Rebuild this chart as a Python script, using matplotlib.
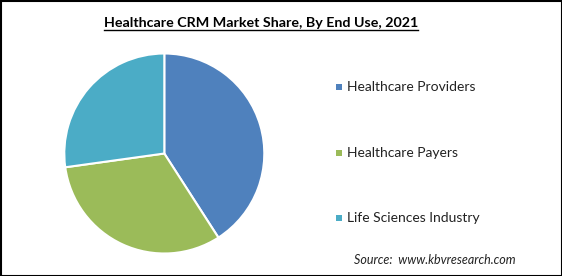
import matplotlib
matplotlib.use("Agg")
import matplotlib.pyplot as plt
from matplotlib.patches import Rectangle
from matplotlib.lines import Line2D

plt.rcParams['font.family'] = ['Lato', 'DejaVu Sans']

labels = ["Healthcare Providers", "Healthcare Payers", "Life Sciences Industry"]
shares = [40.9, 31.9, 27.2]
colors = ["#4F81BD", "#9BBB59", "#4BACC6"]

W, H = 562, 276
fig = plt.figure(figsize=(W / 100, H / 100), dpi=100)
fig.patch.set_facecolor("white")

# pie axes: centre at (164, 153) px, radius ~100 px
cx, cy, r = 164.3, 153.5, 100
ax = fig.add_axes([(cx - r) / W, (H - cy - r) / H, 2 * r / W, 2 * r / H])
ax.pie(shares, colors=colors, startangle=90, counterclock=False,
       wedgeprops=dict(edgecolor="white", linewidth=1.5))
ax.set_xlim(-1, 1)
ax.set_ylim(-1, 1)
ax.set_aspect("equal")
ax.axis("off")

# title with underline
title = fig.text(261 / W, 1 - 23 / H, "Healthcare CRM Market Share, By End Use, 2021",
                 ha="center", va="center", fontsize=10.3, fontweight="bold")
fig.canvas.draw()
bb = title.get_window_extent(fig.canvas.get_renderer())
uy = (bb.y0 - 1) / H
fig.add_artist(Line2D([bb.x0 / W, bb.x1 / W], [uy, uy], color="black", lw=1,
                      transform=fig.transFigure))

# legend
ys = [87, 153, 218]
for lab, col, y in zip(labels, colors, ys):
    fig.add_artist(Rectangle(((336) / W, (H - y - 3) / H), 6 / W, 6 / H,
                             facecolor=col, edgecolor="none",
                             transform=fig.transFigure))
    fig.text(347 / W, 1 - y / H, lab, ha="left", va="center", fontsize=10,
             color="#222222")

fig.text(516 / W, 1 - 260 / H, "Source:  www.kbvresearch.com", ha="right",
         va="center", fontsize=9, style="italic", color="#222222")

# outer border
fig.add_artist(Rectangle((0.5 / W, 0.5 / H), (W - 1) / W, (H - 1) / H,
                         fill=False, edgecolor="black", lw=1.5,
                         transform=fig.transFigure))

fig.savefig("out.png", dpi=100)
